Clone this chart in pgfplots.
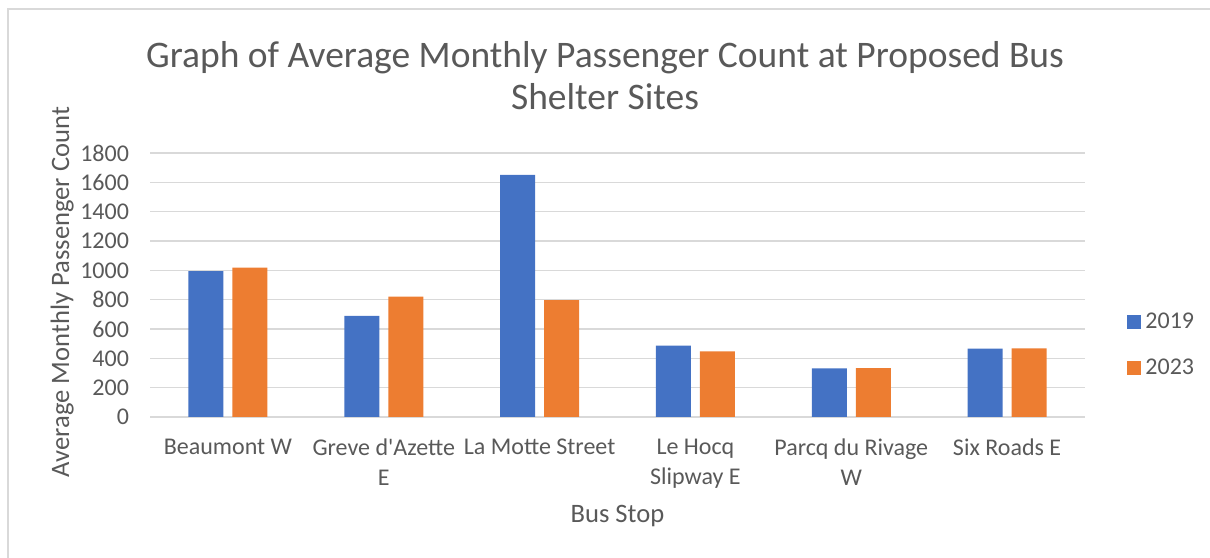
\documentclass[border=0pt]{standalone}
\usepackage{pgfplots}
\pgfplotsset{compat=1.18}
\usepackage{fontspec}
\setmainfont{Carlito}[Ligatures=TeXOff]
\definecolor{cblue}{HTML}{4472C4}
\definecolor{corange}{HTML}{ED7D31}
\definecolor{ctext}{HTML}{595959}
\definecolor{cgrid}{HTML}{D9D9D9}
\begin{document}
\begin{tikzpicture}
\useasboundingbox (0pt,0pt) rectangle (605pt,278.5pt);
\draw[cgrid, line width=0.75pt] (4pt,-10pt) -- (4pt,274pt) -- (615pt,274pt);
\node[text=ctext, font=\fontsize{18.75}{21}\selectfont, align=center] at (302.5pt,240.5pt) {Graph of Average Monthly Passenger Count at Proposed Bus\\Shelter Sites};
\begin{axis}[
  at={(75pt,70pt)}, anchor=south west,
  width=467.5pt, height=132pt, scale only axis,
  xmin=-0.5, xmax=5.5, ymin=0, ymax=1800,
  ytick={0,200,...,1800},
  xtick={0,1,2,3,4,5},
  xticklabels={Beaumont W, {Greve d'Azette\\E}, La Motte Street, {Le Hocq\\Slipway E}, {Parcq du Rivage\\W}, Six Roads E},
  axis line style={draw=none},
  major tick length=0pt,
  ymajorgrids, grid style={cgrid, line width=0.75pt},
  tick label style={text=ctext, font=\fontsize{12}{15}\selectfont},
  xticklabel style={align=center, anchor=north, yshift=-7.5pt},
  yticklabel style={anchor=east, xshift=-7pt},
  /pgf/number format/assume math mode=true,
  /pgf/number format/1000 sep={},
  ylabel={Average Monthly Passenger Count},
  ylabel style={text=ctext, font=\fontsize{13.3}{15}\selectfont, at={(axis description cs:-0.094,0.473)}, anchor=center, rotate=0},
  xlabel={Bus Stop},
  xlabel style={text=ctext, font=\fontsize{13.3}{15}\selectfont, at={(axis description cs:0.5,-0.375)}, anchor=center},
  ybar, bar width=17.5pt,
  legend style={draw=none, fill=none, at={(axis description cs:1.045,0.272)}, anchor=west, font=\fontsize{12}{15}\selectfont, text=ctext, row sep=9.5pt, inner sep=0pt},
  legend cell align=left,
  legend image code/.code={\fill[#1] (0pt,-3.5pt) rectangle (7pt,3.5pt);},
]
\addplot[fill=cblue, draw=none, bar shift=-11pt] coordinates {(0,994) (1,690) (2,1651) (3,487) (4,331) (5,466)};
\addplot[fill=corange, draw=none, bar shift=11pt] coordinates {(0,1019) (1,820) (2,797) (3,448) (4,334) (5,468)};
\legend{2019,2023}
\end{axis}
\end{tikzpicture}
\end{document}
